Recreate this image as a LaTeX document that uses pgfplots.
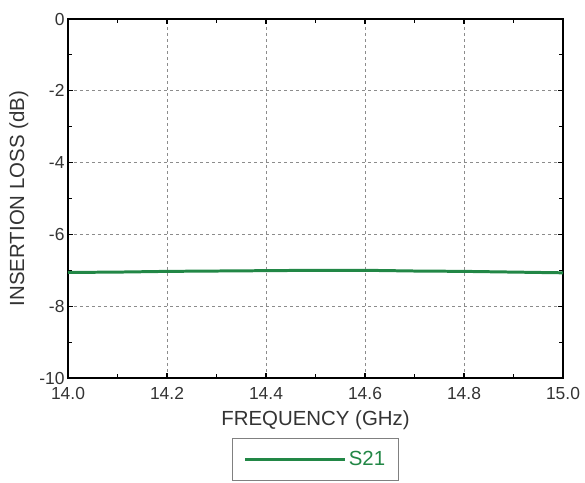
\documentclass[border=0pt]{standalone}
\usepackage{fontspec}
\setmainfont{Liberation Sans}
\usepackage{pgfplots}
\pgfplotsset{compat=1.18}
\definecolor{sgreen}{RGB}{34,135,70}
\begin{document}
\begin{tikzpicture}
\begin{axis}[
  name=ax,
  scale only axis,
  width=495bp, height=359bp,
  xmin=14.0, xmax=15.0, ymin=-10, ymax=0,
  xtick={14.0,14.2,...,15.0},
  ytick={-10,-8,...,0},
  minor tick num=1,
  tick align=inside,
  tick pos=both,
  major tick length=5bp, minor tick length=4bp,
  every tick/.style={black, line width=1.2pt},
  axis line style={black, line width=1.6pt},
  grid=major,
  major grid style={gray!90, line width=1pt, dash pattern=on 3bp off 3bp},
  /pgf/number format/assume math mode=true,
  ticklabel style={font=\fontsize{17.5}{18}\selectfont, text=black!80},
  xticklabel style={yshift=-6bp, /pgf/number format/.cd, fixed, fixed zerofill, precision=1},
  label style={font=\fontsize{20.5}{22}\selectfont, text=black!80},
  xlabel={FREQUENCY (GHz)},
  ylabel={INSERTION LOSS (dB)},
  xlabel style={yshift=-4bp},
  ylabel style={yshift=4bp},
  legend style={at={(0.5,-0.167)}, anchor=north, draw=black!50, line width=0.8pt,
    font=\fontsize{20.5}{22}\selectfont, text=sgreen, inner xsep=11bp, inner ysep=11bp},
  legend image code/.code={\draw[#1] (0bp,0bp) -- (100bp,0bp);},
]
\addplot[sgreen, line width=3pt] coordinates {
 (14.0,-7.06) (14.1,-7.05) (14.2,-7.03) (14.3,-7.02) (14.4,-7.01) (14.5,-7.00)
 (14.6,-7.00) (14.7,-7.02) (14.8,-7.03) (14.9,-7.05) (15.0,-7.07)};
\addlegendentry{S21}
\end{axis}
\pgfresetboundingbox
\path ([shift={(-68bp,-105bp)}]ax.south west) rectangle ([shift={(22bp,19bp)}]ax.north east);
\end{tikzpicture}
\end{document}
